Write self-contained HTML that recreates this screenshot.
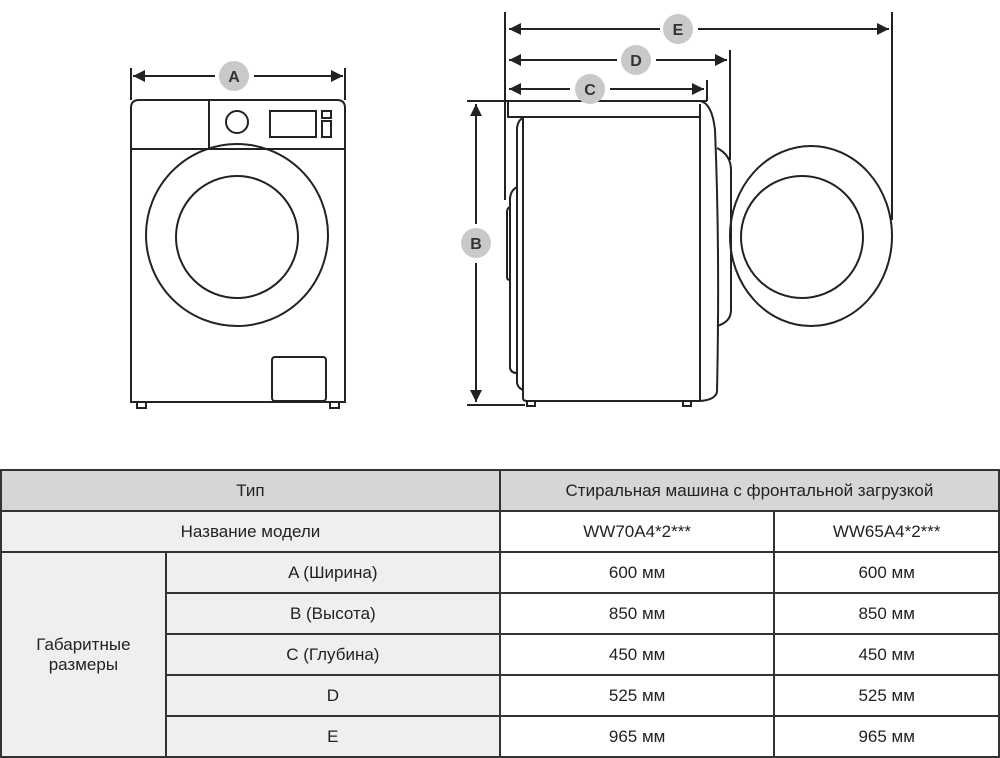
<!DOCTYPE html>
<html><head><meta charset="utf-8"><style>
body{margin:0;background:#fff;width:1000px;height:756px;overflow:hidden;position:relative;font-family:"Liberation Sans Narrow","Liberation Sans",sans-serif}
svg{position:absolute;left:0;top:0}
table{position:absolute;left:0;top:469px;width:1000px;border-collapse:collapse;font-size:17px;color:#222}
td{border:2px solid #333;text-align:center;padding:0}
tr{height:41px}
.g{background:#d6d6d6}.l{background:#efefef}
</style></head><body>
<svg width="1000" height="460" viewBox="0 0 1000 460" fill="none" stroke="#222" stroke-width="2">
<defs><marker id="ar" viewBox="0 0 10 10" refX="10" refY="5" markerWidth="6" markerHeight="6" orient="auto-start-reverse"><path d="M0,0 L10,5 L0,10 z" fill="#222" stroke="none"/></marker></defs>
<line x1="131" y1="68" x2="131" y2="100"/><line x1="345" y1="68" x2="345" y2="100"/>
<line x1="133" y1="76" x2="215" y2="76" marker-start="url(#ar)"/><line x1="254" y1="76" x2="343" y2="76" marker-end="url(#ar)"/>
<path d="M131,402 V108 Q131,100 139,100 H337 Q345,100 345,108 V402 Z"/>
<line x1="131" y1="149" x2="345" y2="149"/><line x1="209" y1="100" x2="209" y2="149"/>
<circle cx="237" cy="122" r="11"/><rect x="270" y="111" width="46" height="26"/>
<rect x="322" y="111" width="9" height="7"/><rect x="322" y="121" width="9" height="16"/>
<circle cx="237" cy="235" r="91"/><circle cx="237" cy="237" r="61"/>
<rect x="272" y="357" width="54" height="44" rx="3"/>
<rect x="137" y="402" width="9" height="6"/><rect x="330" y="402" width="9" height="6"/>
<line x1="505" y1="12" x2="505" y2="200"/><line x1="892" y1="12" x2="892" y2="220"/>
<line x1="730" y1="50" x2="730" y2="160"/><line x1="707" y1="80" x2="707" y2="101"/>
<line x1="509" y1="29" x2="660" y2="29" marker-start="url(#ar)"/><line x1="698" y1="29" x2="889" y2="29" marker-end="url(#ar)"/>
<line x1="509" y1="60" x2="617" y2="60" marker-start="url(#ar)"/><line x1="656" y1="60" x2="727" y2="60" marker-end="url(#ar)"/>
<line x1="509" y1="89" x2="570" y2="89" marker-start="url(#ar)"/><line x1="610" y1="89" x2="704" y2="89" marker-end="url(#ar)"/>
<line x1="467" y1="101" x2="707" y2="101"/><line x1="467" y1="405" x2="525" y2="405"/>
<line x1="476" y1="104" x2="476" y2="224" marker-start="url(#ar)"/><line x1="476" y1="263" x2="476" y2="402" marker-end="url(#ar)"/>
<path d="M508,101 V117 H700"/>
<path d="M523,117 V398 Q523,401 527,401 H700 V104"/>
<path d="M700,101 Q712,103 715,130 Q720,250 717,392 Q715,400 700,401"/>
<path d="M717,148 Q731,155 731,170 V310 Q731,322 717,326"/>
<ellipse cx="811" cy="236" rx="81" ry="90"/><ellipse cx="802" cy="237" rx="61" ry="61"/>
<path d="M523,118 Q518,120 517,128 V383 Q518,388 523,390"/>
<path d="M517,187 Q511,190 510,198 V368 Q511,373 517,373"/>
<path d="M510,207 Q507,208 507,212 V277 Q507,280 510,280"/>
<rect x="527" y="401" width="8" height="5"/><rect x="683" y="401" width="8" height="5"/>
<g stroke="none" fill="#c9c9c9"><circle cx="234" cy="76" r="15"/><circle cx="678" cy="29" r="15"/><circle cx="636" cy="60" r="15"/><circle cx="590" cy="89" r="15"/><circle cx="476" cy="243" r="15"/></g>
<g stroke="none" fill="#333" font-family="Liberation Sans,sans-serif" font-weight="bold" font-size="16" text-anchor="middle">
<text x="234" y="82">A</text><text x="678" y="35">E</text><text x="636" y="66">D</text><text x="590" y="95">C</text><text x="476" y="249">B</text></g>
</svg>
<table>
<colgroup><col style="width:165px"><col style="width:335px"><col style="width:275px"><col style="width:225px"></colgroup>
<tr><td class="g" colspan="2">Тип</td><td class="g" colspan="2">Стиральная машина с фронтальной загрузкой</td></tr>
<tr><td class="l" colspan="2">Название модели</td><td>WW70A4*2***</td><td>WW65A4*2***</td></tr>
<tr><td class="l" rowspan="5">Габаритные<br>размеры</td><td class="l">A (Ширина)</td><td>600 мм</td><td>600 мм</td></tr>
<tr><td class="l">B (Высота)</td><td>850 мм</td><td>850 мм</td></tr>
<tr><td class="l">C (Глубина)</td><td>450 мм</td><td>450 мм</td></tr>
<tr><td class="l">D</td><td>525 мм</td><td>525 мм</td></tr>
<tr><td class="l">E</td><td>965 мм</td><td>965 мм</td></tr>
</table>
</body></html>
